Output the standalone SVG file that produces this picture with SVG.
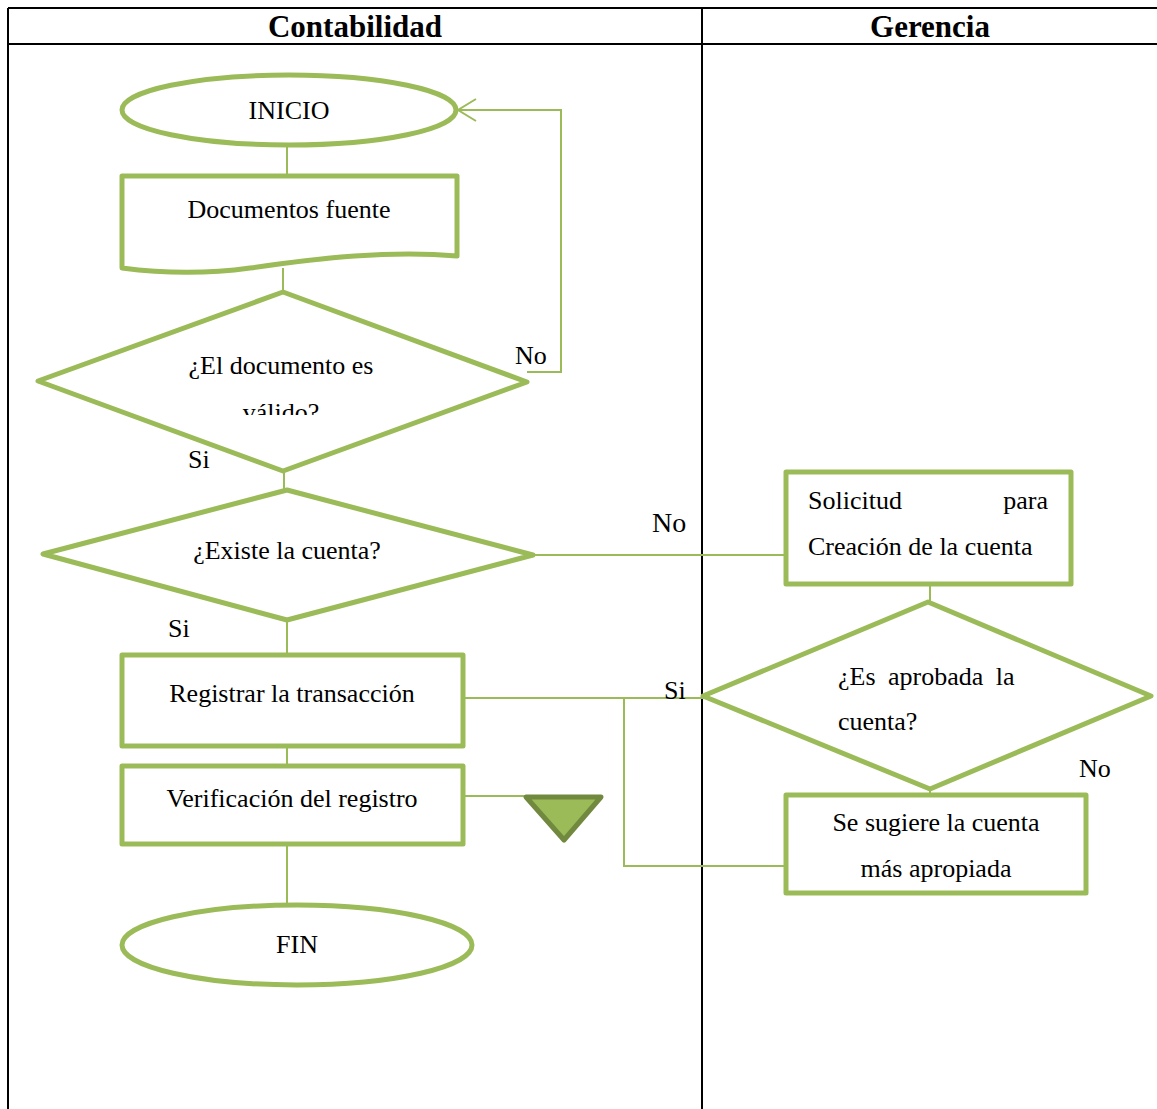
<svg xmlns="http://www.w3.org/2000/svg" width="1157" height="1109" viewBox="0 0 1157 1109" font-family="'Liberation Serif', 'DejaVu Serif', serif">
<style>
.shape{fill:#fff;stroke:#9BBB59;stroke-width:5;stroke-linejoin:round}
.conn{fill:none;stroke:#9BBB59;stroke-width:2}
.grid{stroke:#000;stroke-width:2;fill:none}
text{font-family:'Liberation Serif','DejaVu Serif',serif;font-size:26px;fill:#000}
.c{text-anchor:middle}
.h{font-weight:bold;font-size:31px}
</style>
<defs>
<clipPath id="clipValido"><rect x="0" y="380" width="1157" height="35"/></clipPath>
</defs>
<rect width="1157" height="1109" fill="#fff"/>
<g id="table">
<line class="grid" x1="8" y1="8" x2="1157" y2="8"/>
<line class="grid" x1="8" y1="44" x2="1157" y2="44"/>
<line class="grid" x1="8" y1="8" x2="8" y2="1109"/>
<line class="grid" x1="702" y1="8" x2="702" y2="1109"/>
<text class="c h" x="355" y="37">Contabilidad</text>
<text class="c h" x="930" y="37">Gerencia</text>
</g>
<g id="connectors">
<line class="conn" x1="287" y1="146" x2="287" y2="176"/>
<line class="conn" x1="283" y1="268" x2="283" y2="292"/>
<polyline class="conn" points="527,372 561,372 561,110 458,110"/>
<polyline class="conn" points="476,99 458,110 476,121"/>
<line class="conn" x1="284" y1="455" x2="284" y2="490"/>
<line class="conn" x1="533" y1="555" x2="786" y2="555"/>
<line class="conn" x1="287" y1="620" x2="287" y2="655"/>
<line class="conn" x1="463" y1="698" x2="720" y2="698"/>
<polyline class="conn" points="624,698 624,866 786,866"/>
<line class="conn" x1="287" y1="743" x2="287" y2="766"/>
<line class="conn" x1="463" y1="796" x2="530" y2="796"/>
<line class="conn" x1="287" y1="844" x2="287" y2="905"/>
<line class="conn" x1="930" y1="584" x2="930" y2="602"/>
<line class="conn" x1="930" y1="772" x2="930" y2="795"/>
</g>
<g id="inicio">
<ellipse class="shape" cx="289" cy="110" rx="167" ry="35"/>
<text class="c" x="289" y="119">INICIO</text>
</g>
<g id="documentos">
<path class="shape" d="M122,176 H457 V256 C390,250 320,258 250,268 C200,275 160,273 122,268 Z"/>
<text class="c" x="289" y="218">Documentos fuente</text>
</g>
<g id="decision-valido">
<polygon class="shape" points="283,292 527,382 283,471 38,381"/>
<text class="c" x="281" y="374">¿El documento es</text>
<text class="c" x="281" y="421" clip-path="url(#clipValido)">válido?</text>
<text x="515" y="364">No</text>
<text x="188" y="468">Si</text>
</g>
<g id="decision-existe">
<polygon class="shape" points="287,490 533,555 287,620 43,554"/>
<text class="c" x="287" y="559">¿Existe la cuenta?</text>
<text x="652" y="532" style="font-size:28px">No</text>
<text x="168" y="637">Si</text>
</g>
<g id="registrar">
<rect class="shape" x="122" y="655" width="341" height="91"/>
<text class="c" x="292" y="702">Registrar la transacción</text>
<text x="664" y="699">Si</text>
</g>
<g id="verificacion">
<rect class="shape" x="122" y="766" width="341" height="78"/>
<text class="c" x="292" y="807">Verificación del registro</text>
</g>
<g id="archivo">
<polygon points="526,797 601,797 564,840" fill="#9BBB59" stroke="#71893F" stroke-width="5" stroke-linejoin="round"/>
</g>
<g id="fin">
<ellipse class="shape" cx="297" cy="945" rx="175" ry="40"/>
<text class="c" x="297" y="953">FIN</text>
</g>
<g id="solicitud">
<rect class="shape" x="786" y="472" width="285" height="112"/>
<text x="808" y="509">Solicitud</text>
<text x="1048" y="509" text-anchor="end">para</text>
<text x="808" y="555">Creación de la cuenta</text>
</g>
<g id="decision-aprobada">
<polygon class="shape" points="928,602 1151,696 930,789 703,696"/>
<text x="838" y="685" word-spacing="6">¿Es aprobada la</text>
<text x="838" y="730">cuenta?</text>
<text x="1079" y="777">No</text>
</g>
<g id="sugiere">
<rect class="shape" x="786" y="795" width="300" height="98"/>
<text class="c" x="936" y="831">Se sugiere la cuenta</text>
<text class="c" x="936" y="877">más apropiada</text>
</g>
</svg>
